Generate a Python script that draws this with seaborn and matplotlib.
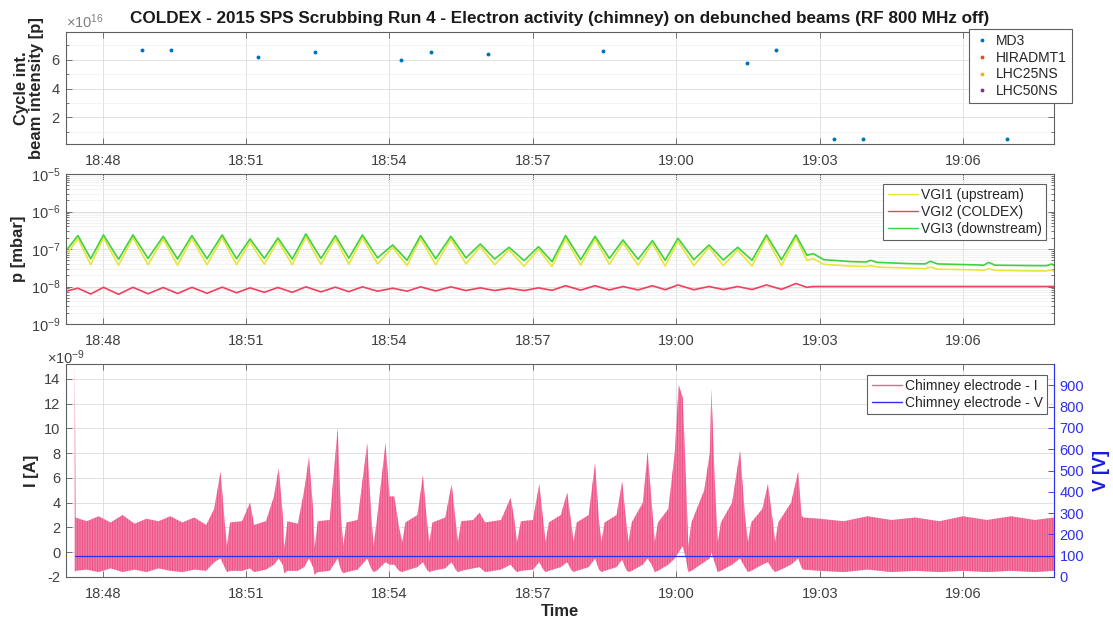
import matplotlib
matplotlib.use("Agg")
import matplotlib.pyplot as plt
import matplotlib.dates as mdates
from matplotlib.lines import Line2D
from matplotlib.ticker import (ScalarFormatter, FixedLocator, LogLocator, NullFormatter,
                               MultipleLocator, FuncFormatter)
import numpy as np
import pandas as pd
import seaborn as sns

DATE = "2015-07-03 "

# ---------------- data ----------------
# Panel 1: cycle-integrated beam intensity [p]
beam_types = ["MD3", "HIRADMT1", "LHC25NS", "LHC50NS"]
md3_times = ["18:48:50", "18:49:26", "18:51:15", "18:52:27", "18:54:15", "18:54:52",
             "18:56:04", "18:58:28", "19:01:29", "19:02:05", "19:03:18", "19:03:54",
             "19:06:55"]
md3_intensity = [6.65e16, 6.65e16, 6.19e16, 6.53e16, 5.98e16, 6.58e16, 6.42e16,
                 6.63e16, 5.81e16, 6.70e16, 0.47e16, 0.47e16, 0.47e16]

# Panel 2: pressure [mbar] (VGI1 upstream, VGI2 COLDEX, VGI3 downstream)
p_times = ["18:47:14", "18:47:29", "18:47:45", "18:48:01", "18:48:20", "18:48:38",
           "18:48:57", "18:49:16", "18:49:34", "18:49:52", "18:50:11", "18:50:30",
           "18:50:48", "18:51:05", "18:51:23", "18:51:40", "18:51:58", "18:52:15",
           "18:52:34", "18:52:52", "18:53:09", "18:53:26", "18:53:45", "18:54:04",
           "18:54:22", "18:54:39", "18:54:58", "18:55:17", "18:55:36", "18:55:54",
           "18:56:12", "18:56:30", "18:56:49", "18:57:07", "18:57:24", "18:57:41",
           "18:58:00", "18:58:18", "18:58:36", "18:58:53", "18:59:12", "18:59:30",
           "18:59:46", "19:00:02", "19:00:22", "19:00:41", "19:00:59", "19:01:17",
           "19:01:35", "19:01:53", "19:02:12", "19:02:30", "19:02:44", "19:02:52",
           "19:03:05", "19:03:40", "19:03:58", "19:04:04", "19:04:12", "19:04:50",
           "19:05:12", "19:05:19", "19:05:28", "19:06:10", "19:06:26", "19:06:32",
           "19:06:40", "19:07:30", "19:07:45", "19:07:51", "19:07:55"]
vgi3 = [9.0e-8, 2.28e-7, 5.5e-8, 2.37e-7, 5.3e-8, 2.37e-7, 5.6e-8, 2.18e-7, 5.4e-8,
        2.28e-7, 5.5e-8, 2.37e-7, 5.5e-8, 1.85e-7, 5.6e-8, 1.97e-7, 5.4e-8, 2.52e-7,
        5.6e-8, 2.28e-7, 5.7e-8, 2.37e-7, 5.8e-8, 1.28e-7, 5.0e-8, 2.28e-7, 5.5e-8,
        2.18e-7, 5.8e-8, 1.36e-7, 5.4e-8, 1.11e-7, 4.9e-8, 1.15e-7, 4.6e-8, 2.28e-7,
        5.2e-8, 2.18e-7, 5.6e-8, 1.74e-7, 5.3e-8, 1.67e-7, 5.0e-8, 1.93e-7, 5.2e-8,
        1.28e-7, 5.1e-8, 1.11e-7, 5.0e-8, 2.37e-7, 5.2e-8, 2.37e-7, 6.8e-8, 7.5e-8,
        5.2e-8, 4.6e-8, 4.5e-8, 5.0e-8, 4.4e-8, 4.1e-8, 4.0e-8, 4.7e-8, 4.0e-8,
        3.8e-8, 3.7e-8, 4.4e-8, 3.7e-8, 3.6e-8, 3.6e-8, 4.0e-8, 3.5e-8]
vgi1 = [7.0e-8, 1.9e-7, 3.8e-8, 2.0e-7, 3.7e-8, 2.0e-7, 3.8e-8, 1.85e-7, 3.7e-8,
        1.9e-7, 3.8e-8, 2.0e-7, 3.8e-8, 1.55e-7, 3.9e-8, 1.65e-7, 3.8e-8, 2.1e-7,
        3.9e-8, 1.9e-7, 3.9e-8, 2.0e-7, 4.0e-8, 1.1e-7, 3.6e-8, 1.9e-7, 3.8e-8,
        1.85e-7, 4.0e-8, 1.15e-7, 3.8e-8, 9.5e-8, 3.5e-8, 9.8e-8, 3.4e-8, 1.9e-7,
        3.7e-8, 1.85e-7, 3.9e-8, 1.45e-7, 3.7e-8, 1.4e-7, 3.5e-8, 1.6e-7, 3.6e-8,
        1.1e-7, 3.6e-8, 9.5e-8, 3.5e-8, 2.0e-7, 3.6e-8, 2.0e-7, 5.0e-8, 5.5e-8,
        3.9e-8, 3.5e-8, 3.4e-8, 3.6e-8, 3.3e-8, 3.1e-8, 3.0e-8, 3.3e-8, 2.9e-8,
        2.8e-8, 2.7e-8, 3.0e-8, 2.7e-8, 2.6e-8, 2.6e-8, 2.8e-8, 2.5e-8]
vgi2 = [7.5e-9, 9.0e-9, 6.3e-9, 9.5e-9, 6.2e-9, 9.5e-9, 6.4e-9, 9.4e-9, 6.5e-9,
        9.5e-9, 6.6e-9, 9.6e-9, 6.8e-9, 9.2e-9, 7.0e-9, 9.4e-9, 7.0e-9, 9.8e-9,
        7.2e-9, 9.6e-9, 7.3e-9, 9.8e-9, 7.5e-9, 9.0e-9, 7.5e-9, 9.8e-9, 7.6e-9,
        9.8e-9, 7.8e-9, 9.2e-9, 7.8e-9, 9.0e-9, 7.8e-9, 9.2e-9, 7.9e-9, 1.05e-8,
        8.0e-9, 1.05e-8, 8.1e-9, 1.0e-8, 8.1e-9, 1.05e-8, 8.2e-9, 1.1e-8, 8.2e-9,
        1.0e-8, 8.3e-9, 1.0e-8, 8.3e-9, 1.1e-8, 8.4e-9, 1.2e-8, 9.5e-9, 1.0e-8,
        1.0e-8, 1.0e-8, 1.0e-8, 1.0e-8, 1.0e-8, 1.0e-8, 1.0e-8, 1.0e-8, 1.0e-8,
        1.0e-8, 1.0e-8, 1.0e-8, 1.0e-8, 1.0e-8, 1.0e-8, 1.0e-8, 1.0e-8]
gauge_names = ["VGI1 (upstream)", "VGI2 (COLDEX)", "VGI3 (downstream)"]

# Panel 3: chimney electrode current envelope [nA] and bias voltage [V]
i_times = ["18:47:25", "18:47:26", "18:47:40", "18:47:55", "18:48:10", "18:48:25",
           "18:48:40", "18:48:55", "18:49:10", "18:49:25", "18:49:40", "18:49:55",
           "18:50:10", "18:50:20", "18:50:28", "18:50:33", "18:50:36", "18:50:40",
           "18:50:55", "18:51:05", "18:51:10", "18:51:25", "18:51:35", "18:51:41",
           "18:51:46", "18:51:48", "18:51:52", "18:52:05", "18:52:13", "18:52:19",
           "18:52:24", "18:52:26", "18:52:30", "18:52:45", "18:52:55", "18:52:59",
           "18:53:02", "18:53:06", "18:53:20", "18:53:32", "18:53:37", "18:53:40",
           "18:53:44", "18:53:55", "18:54:00", "18:54:06", "18:54:12", "18:54:16",
           "18:54:20", "18:54:35", "18:54:42", "18:54:47", "18:54:50", "18:54:54",
           "18:55:10", "18:55:18", "18:55:23", "18:55:26", "18:55:30", "18:55:45",
           "18:55:53", "18:56:00", "18:56:20", "18:56:32", "18:56:37", "18:56:40",
           "18:56:45", "18:57:00", "18:57:08", "18:57:13", "18:57:16", "18:57:20",
           "18:57:35", "18:57:43", "18:57:48", "18:57:51", "18:57:55", "18:58:10",
           "18:58:18", "18:58:23", "18:58:26", "18:58:30", "18:58:45", "18:58:52",
           "18:58:57", "18:59:00", "18:59:04", "18:59:18", "18:59:24", "18:59:29",
           "18:59:33", "18:59:37", "18:59:50", "18:59:58", "19:00:03", "19:00:08",
           "19:00:12", "19:00:15", "19:00:19", "19:00:35", "19:00:42", "19:00:44",
           "19:00:48", "19:00:52", "19:00:56", "19:01:10", "19:01:20", "19:01:26",
           "19:01:30", "19:01:34", "19:01:48", "19:01:55", "19:02:01", "19:02:04",
           "19:02:08", "19:02:24", "19:02:33", "19:02:37", "19:02:39", "19:03:00",
           "19:03:30", "19:04:00", "19:04:30", "19:05:00", "19:05:30", "19:06:00",
           "19:06:30", "19:07:00", "19:07:30", "19:07:54"]
i_upper_nA = [15.5, 2.8, 2.5, 2.9, 2.4, 3.0, 2.3, 2.7, 2.5, 2.9, 2.4, 2.8,
              2.2, 3.5, 6.5, 2.5, 0.5, 2.4, 2.5, 4.0, 2.2, 2.5, 4.5, 6.8,
              3.0, 0.3, 2.5, 2.3, 5.0, 7.7, 3.5, 0.3, 2.5, 2.6, 10.0, 3.0,
              0.5, 2.4, 2.6, 8.8, 3.0, 0.5, 2.5, 8.8, 4.5, 4.5, 2.0, 0.8,
              2.4, 3.0, 6.2, 2.5, 0.8, 2.4, 2.8, 5.5, 2.5, 0.8, 2.5, 2.6,
              3.2, 2.4, 2.6, 4.4, 2.5, 0.8, 2.5, 2.6, 5.5, 2.5, 0.8, 2.4,
              3.0, 4.8, 2.4, 0.8, 2.4, 3.0, 7.2, 2.5, 0.8, 2.4, 3.0, 5.7,
              2.5, 0.8, 2.4, 4.0, 8.1, 4.0, 0.8, 2.4, 3.5, 8.0, 13.5, 12.5,
              6.0, 0.5, 2.4, 5.0, 8.0, 13.2, 6.0, 0.8, 2.4, 4.0, 8.2, 3.0,
              0.8, 2.4, 3.5, 5.5, 2.5, 0.8, 2.4, 4.0, 6.5, 3.0, 2.8, 2.7,
              2.5, 2.9, 2.6, 2.8, 2.5, 2.9, 2.6, 2.9, 2.6, 2.8]
i_lower_nA = [-1.6, -1.5, -1.4, -1.6, -1.3, -1.6, -1.4, -1.6, -1.3, -1.5, -1.6, -1.4,
              -1.5, -0.8, -0.5, -1.2, -1.6, -1.5, -1.5, -1.3, -1.6, -1.4, -1.0, -0.5,
              -1.0, -1.7, -1.5, -1.5, -1.2, -0.5, -1.2, -1.8, -1.6, -1.5, -0.5, -1.4,
              -1.7, -1.6, -1.4, -0.5, -1.3, -1.6, -1.5, -0.8, -1.0, -1.0, -1.5, -1.6,
              -1.5, -1.2, -0.8, -1.4, -1.6, -1.5, -1.3, -0.8, -1.4, -1.6, -1.5, -1.3,
              -1.2, -1.6, -1.4, -1.0, -1.4, -1.6, -1.5, -1.4, -0.8, -1.4, -1.6, -1.5,
              -1.2, -0.8, -1.4, -1.6, -1.5, -1.2, -0.5, -1.4, -1.6, -1.5, -1.2, -0.6,
              -1.4, -1.6, -1.5, -1.0, -0.5, -1.0, -1.6, -1.5, -1.0, -0.5, 0.0, 0.5,
              -0.5, -1.6, -1.5, -0.8, -0.5, 0.0, -0.8, -1.6, -1.5, -1.0, -0.5, -1.2,
              -1.6, -1.5, -1.0, -0.8, -1.4, -1.6, -1.5, -1.0, -0.5, -1.2, -1.4, -1.5,
              -1.6, -1.4, -1.6, -1.5, -1.6, -1.5, -1.6, -1.5, -1.6, -1.5]
v_times = ["18:47:25", "19:07:54"]
v_volts = [100, 100]

x_limits = ["18:47:14", "19:07:54"]
x_tick_labels = ["18:48", "18:51", "18:54", "18:57", "19:00", "19:03", "19:06"]

# ---------------- style ----------------
sns.set_theme(style="ticks")
plt.rcParams["font.family"] = ["Liberation Sans", "DejaVu Sans"]
plt.rcParams["mathtext.fontset"] = "custom"
plt.rcParams["mathtext.rm"] = "Liberation Sans"
plt.rcParams["mathtext.it"] = "Liberation Sans:italic"
plt.rcParams["mathtext.bf"] = "Liberation Sans:bold"
plt.rcParams["hatch.linewidth"] = 0.6

TXT = "#404040"
SPINE = "#606060"
GRID = "#DCDCDC"
MINOR = "#EFEFEF"
BEAM_COLORS = ["#0072BD", "#D95319", "#EDB120", "#7E2F8E"]
GAUGE_COLORS = ["#E6E63C", "#F0405E", "#3ED23E"]
PINK = "#F2608F"
PINK_LIGHT = "#F58AAF"
PINK_DARK = "#EE4A80"
BLUE = "#2F2FF0"

def ts(lst):
    return pd.to_datetime([DATE + s for s in lst])

fig = plt.figure(figsize=(11.13, 6.24), dpi=100)
W, H = 1113.0, 624.0
def axes_px(left, top, right, bottom):
    return fig.add_axes([left / W, 1 - bottom / H, (right - left) / W, (bottom - top) / H])

ax1 = axes_px(66, 32, 1054, 144)
ax2 = axes_px(66, 174, 1054, 324)
ax3 = axes_px(66, 364, 1054, 577)

xlim = ts(x_limits)
xticks = ts(x_tick_labels)

def style_axis(ax, right=True):
    ax.set_xlim(xlim[0], xlim[1])
    ax.set_xticks(xticks)
    ax.xaxis.set_major_formatter(mdates.DateFormatter("%H:%M"))
    ax.tick_params(which="both", direction="in", colors=SPINE, labelcolor=TXT,
                   labelsize=10.5, top=True, right=right, width=0.6)
    ax.tick_params(which="major", length=4)
    ax.tick_params(which="minor", length=2)
    ax.tick_params(axis="x", pad=7)
    ax.tick_params(axis="y", pad=4)
    for s in ax.spines.values():
        s.set_color(SPINE)
        s.set_linewidth(0.8)
    ax.grid(True, which="major", color=GRID, lw=0.6)
    ax.set_xlabel("")
    ax.set_axisbelow(True)

# ---- Panel 1 ----
df_md3 = pd.DataFrame({"time": ts(md3_times), "intensity": md3_intensity})
sns.scatterplot(data=df_md3, x="time", y="intensity", color=BEAM_COLORS[0], s=8,
                linewidth=0, ax=ax1, legend=False)
style_axis(ax1)
ax1.set_ylim(0.13e16, 7.94e16)
ax1.set_yticks([2e16, 4e16, 6e16])
ax1.yaxis.set_minor_locator(MultipleLocator(1e16))
ax1.grid(True, which="minor", axis="y", color=MINOR, lw=0.5)
fmt = ScalarFormatter(useMathText=True)
ax1.yaxis.set_major_formatter(fmt)
ax1.yaxis.get_offset_text().set_fontsize(10.5)
ax1.yaxis.get_offset_text().set_color("#7F7F7F")
ax1.set_ylabel("Cycle int.\nbeam intensity [p]", fontsize=12, fontweight="bold",
               color="#262626", linespacing=1.0)
ax1.yaxis.set_label_coords(-0.022, 0.5)
beam_handles = [Line2D([], [], ls="none", marker=".", ms=3.5, color=c) for c in BEAM_COLORS]
fig.legend(beam_handles, beam_types, loc="upper right", bbox_to_anchor=(1071.7 / W, 1 - 29 / H),
           fontsize=10, frameon=True, fancybox=False, edgecolor="#606060", framealpha=1,
           borderpad=0.35, labelspacing=0.2, handlelength=1.2, handletextpad=0.4,
           borderaxespad=0).get_frame().set_linewidth(0.8)

# ---- Panel 2 ----
ax2.set_yscale("log")
df_p = pd.DataFrame({"time": ts(p_times), gauge_names[0]: vgi1,
                     gauge_names[1]: vgi2, gauge_names[2]: vgi3})
df_p = df_p.melt(id_vars="time", var_name="gauge", value_name="p")
sns.lineplot(data=df_p, x="time", y="p", hue="gauge", hue_order=gauge_names,
             palette=GAUGE_COLORS, estimator=None, sort=False, lw=1.2, ax=ax2, legend=False)
style_axis(ax2)
ax2.set_ylim(1e-9, 1e-5)
ax2.yaxis.set_major_locator(FixedLocator([1e-9, 1e-8, 1e-7, 1e-6, 1e-5]))
ax2.yaxis.set_minor_locator(LogLocator(base=10, subs=np.arange(2, 10)))
ax2.yaxis.set_minor_formatter(NullFormatter())
ax2.grid(True, which="minor", axis="y", color=MINOR, lw=0.5)
ax2.set_ylabel("p [mbar]", fontsize=12, fontweight="bold", color="#262626")
ax2.yaxis.set_label_coords(-0.040, 0.5)
gauge_handles = [Line2D([], [], color=c, lw=1.0) for c in GAUGE_COLORS]
fig.legend(gauge_handles, gauge_names, loc="upper right", bbox_to_anchor=(1046 / W, 1 - 184 / H),
           fontsize=10, frameon=True, fancybox=False, edgecolor="#606060", framealpha=1,
           borderpad=0.3, labelspacing=0.2, handlelength=2.2, handletextpad=0.2,
           borderaxespad=0).get_frame().set_linewidth(0.8)

# ---- Panel 3 ----
it = ts(i_times)
ax3.fill_between(it, np.array(i_lower_nA) * 1e-9, np.array(i_upper_nA) * 1e-9,
                 facecolor=PINK_LIGHT, edgecolor=PINK_DARK, hatch="||||||||||", lw=0)
style_axis(ax3, right=False)
ax3.set_ylim(-2e-9, 15.2e-9)
ax3.set_yticks(np.arange(-2, 15, 2) * 1e-9)
ax3.yaxis.set_major_formatter(FuncFormatter(lambda v, pos: f"{v * 1e9:.0f}"))
fig.text(66 / W, 1 - 358 / H, r"$\times10^{-9}$", ha="center", va="center",
         fontsize=10.5, color=TXT)
ax3.set_ylabel("I [A]", fontsize=12, fontweight="bold", color="#262626")
ax3.yaxis.set_label_coords(-0.027, 0.5)
ax3.set_xlabel("Time", fontsize=12, fontweight="bold", color="#262626", labelpad=2)

ax3b = ax3.twinx()
df_v = pd.DataFrame({"time": ts(v_times), "V": v_volts})
sns.lineplot(data=df_v, x="time", y="V", color=BLUE, lw=0.9, ax=ax3b, legend=False)
ax3b.set_xlim(xlim[0], xlim[1])
ax3b.set_ylim(0, 1000)
ax3b.set_yticks(np.arange(0, 901, 100))
ax3b.tick_params(axis="y", direction="in", colors=BLUE, labelcolor=BLUE, labelsize=10.5,
                 length=4, width=0.6, pad=4)
for name, s in ax3b.spines.items():
    s.set_visible(name == "right")
ax3b.spines["right"].set_color(BLUE)
ax3b.spines["right"].set_linewidth(0.8)
ax3b.set_ylabel("V [V]", fontsize=13, fontweight="bold", color="#1A1AE0")
ax3b.yaxis.set_label_coords(1.0395, 0.5)
ax3b.set_xlabel("")
elec_handles = [Line2D([], [], color=PINK, lw=1.0), Line2D([], [], color=BLUE, lw=1.0)]
fig.legend(elec_handles, ["Chimney electrode - I", "Chimney electrode - V"], loc="upper right",
           bbox_to_anchor=(1047 / W, 1 - 375 / H), fontsize=10, frameon=True, fancybox=False,
           edgecolor="#606060", framealpha=1, borderpad=0.3, labelspacing=0.2,
           handlelength=2.2, handletextpad=0.2, borderaxespad=0).get_frame().set_linewidth(0.8)

fig.text(560 / W, 1 - 18 / H,
         "COLDEX - 2015 SPS Scrubbing Run 4 - Electron activity (chimney) on debunched beams (RF 800 MHz off)",
         ha="center", va="center", fontsize=12.3, fontweight="bold", color="#1A1A1A")

fig.savefig("out.png", dpi=100)
